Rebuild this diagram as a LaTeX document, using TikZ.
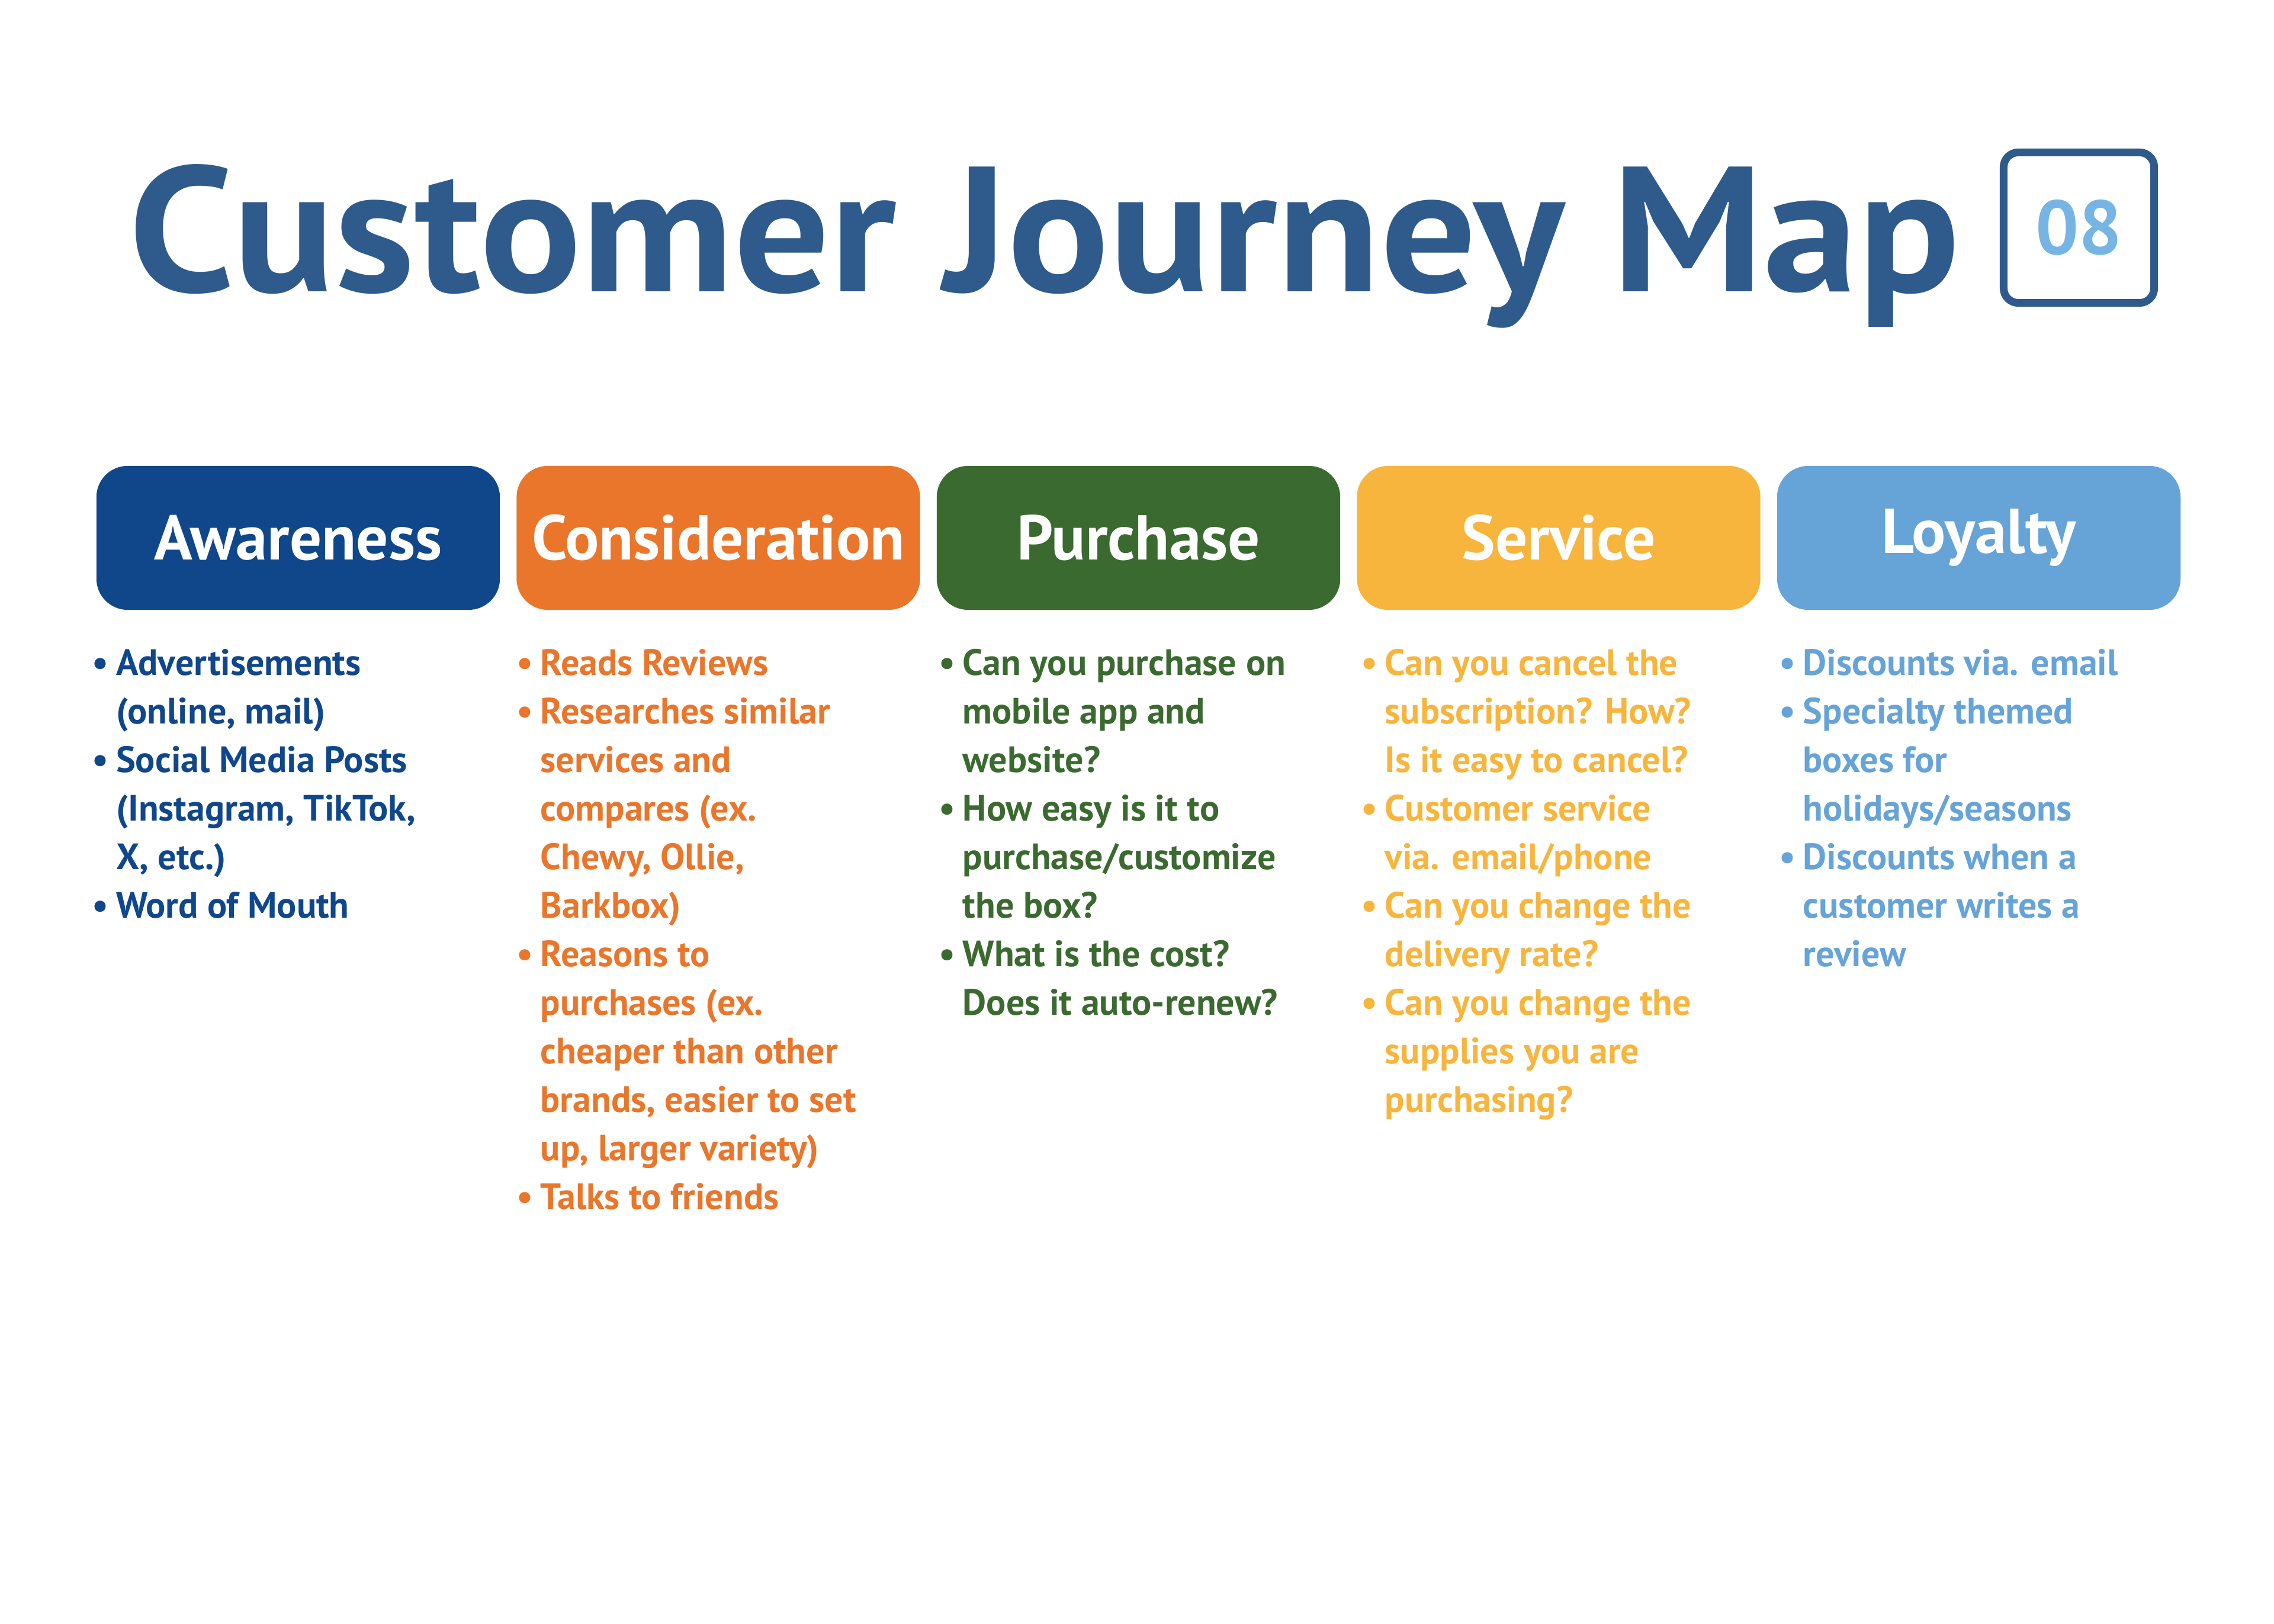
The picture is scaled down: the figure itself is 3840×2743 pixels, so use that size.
\documentclass[tikz,border=0pt]{standalone}
\usepackage{fontspec}
\setmainfont{PT Sans}
\newfontfamily\titlefont[FakeStretch=1.062]{PT Sans}
\usetikzlibrary{positioning}

\definecolor{titleblue}{HTML}{2E5A8C}
\definecolor{numblue}{HTML}{76B5E3}
\definecolor{awareblue}{HTML}{10478A}
\definecolor{considorange}{HTML}{E9762B}
\definecolor{purchgreen}{HTML}{3B6A30}
\definecolor{serviceyellow}{HTML}{F7B53D}
\definecolor{loyalblue}{HTML}{66A3D7}

\newcommand{\bul}{\makebox[11.5pt][l]{\textbullet}}
\newcommand{\ind}{\hspace*{11.5pt}}

\begin{document}
\begin{tikzpicture}[x=0.01cm, y=-0.01cm,
    stage/.style={rounded corners=15pt, minimum width=6.81cm, minimum height=2.43cm,
      inner sep=0pt, text=white, font=\fontsize{30.4}{34}\selectfont\bfseries},
    numbox/.style={draw=titleblue, line width=3.7pt, rounded corners=7pt,
      minimum width=2.54cm, minimum height=2.54cm, inner sep=0pt,
      text=numblue, font=\fontsize{36.7}{40}\selectfont\bfseries},
    list/.style={anchor=base west, inner sep=0pt, font=\fontsize{17.6}{23.3}\selectfont\bfseries}]
  \useasboundingbox (0,0) rectangle (3840,2743);
  \def\pitch{709.5}

  % title
  \node[anchor=base west, inner sep=0pt, text=titleblue,
    font=\titlefont\fontsize{85.6}{90}\selectfont\bfseries] (title) at (217,493) {Customer Journey Map};
  \node[numbox] (num) at (3510.5,384.5) {08};

  % stage headers
  \foreach \name/\label/\col [count=\i from 0] in {aware/Awareness/awareblue,
      consid/Consideration/considorange, purch/Purchase/purchgreen,
      service/Service/serviceyellow, loyal/Loyalty/loyalblue}
    \node[stage, fill=\col] (\name) at (503.5+\pitch*\i, 908.5) {\label};

  % lists under each stage
  \node[list, text=awareblue] (awareList) at ([yshift=-1.1cm, xshift=-2pt]aware.south west) {\parbox[t]{6.6cm}{\raggedright
    \bul Advertisements\\ \ind (online, mail)\\
    \bul Social Media Posts\\ \ind (Instagram, TikTok,\\ \ind X, etc.)\\
    \bul Word of Mouth}};
  \node[list, text=considorange] (considList) at ([yshift=-1.1cm]consid.south west) {\parbox[t]{6.6cm}{\raggedright
    \bul Reads Reviews\\
    \bul Researches similar\\ \ind services and\\ \ind compares (ex.\\ \ind Chewy, Ollie,\\ \ind Barkbox)\\
    \bul Reasons to\\ \ind purchases (ex.\\ \ind cheaper than other\\ \ind brands, easier to set\\ \ind up, larger variety)\\
    \bul Talks to friends}};
  \node[list, text=purchgreen] (purchList) at ([yshift=-1.1cm, xshift=1pt]purch.south west) {\parbox[t]{6.6cm}{\raggedright
    \bul Can you purchase on\\ \ind mobile app and\\ \ind website?\\
    \bul How easy is it to\\ \ind purchase/customize\\ \ind the box?\\
    \bul What is the cost?\\ \ind Does it auto-renew?}};
  \node[list, text=serviceyellow] (serviceList) at ([yshift=-1.1cm, xshift=2pt]service.south west) {\parbox[t]{6.6cm}{\raggedright
    \bul Can you cancel the\\ \ind subscription? How?\\ \ind Is it easy to cancel?\\
    \bul Customer service\\ \ind via. email/phone\\
    \bul Can you change the\\ \ind delivery rate?\\
    \bul Can you change the\\ \ind supplies you are\\ \ind purchasing?}};
  \node[list, text=loyalblue] (loyalList) at ([yshift=-1.1cm, xshift=1pt]loyal.south west) {\parbox[t]{6.6cm}{\raggedright
    \bul Discounts via. email\\
    \bul Specialty themed\\ \ind boxes for\\ \ind holidays/seasons\\
    \bul Discounts when a\\ \ind customer writes a\\ \ind review}};
\end{tikzpicture}
\end{document}
